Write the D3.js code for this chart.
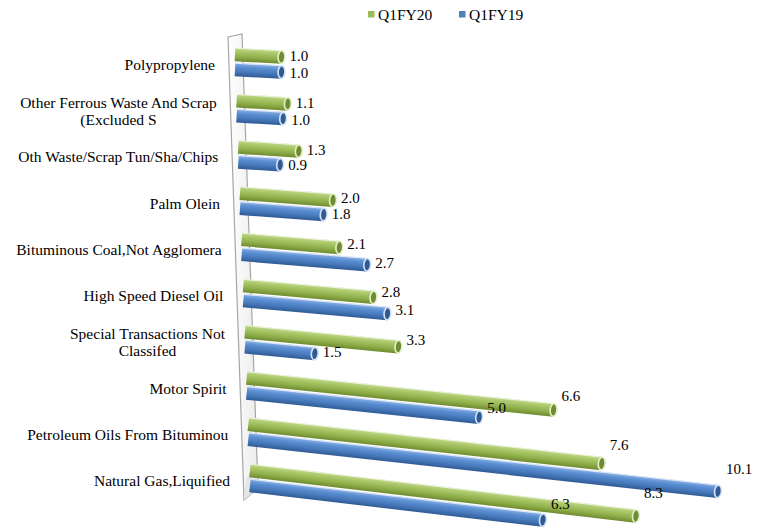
<!DOCTYPE html>
<html>
<head>
<meta charset="utf-8">
<script src="https://cdn.jsdelivr.net/npm/d3@7"></script>
<style>
  body { margin: 0; background: #fff; }
  svg text { font-family: "Times New Roman", "Liberation Serif", serif; fill: #000; }
</style>
</head>
<body>
<div id="chart"></div>
<script>
const width = 763;
const height = 527;

// data, top to bottom as drawn
const categories = [
  "Polypropylene",
  "Other Ferrous Waste And Scrap\n(Excluded S",
  "Oth Waste/Scrap Tun/Sha/Chips",
  "Palm Olein",
  "Bituminous Coal,Not Agglomera",
  "High Speed Diesel Oil",
  "Special Transactions Not\nClassifed",
  "Motor Spirit",
  "Petroleum Oils From Bituminou",
  "Natural Gas,Liquified"
];
const q1fy20 = [1.0, 1.1, 1.3, 2.0, 2.1, 2.8, 3.3, 6.6, 7.6, 8.3];
const q1fy19 = [1.0, 1.0, 0.9, 1.8, 2.7, 3.1, 1.5, 5.0, 10.1, 6.3];
const seriesNames = ["Q1FY20", "Q1FY19"];

const colors = ["#9bbb59", "#4f81bd"];
const shades = [
  ["#c4da90", "#a8c666", "#90af4b", "#6e8b2f"],
  ["#92b6e5", "#5c90d3", "#4779bb", "#2f5b94"]
];
const capFill = ["#6f8c30", "#2f5b94"];
const capRim = ["#e3eecb", "#d5e3f5"];

const svg = d3.select("#chart")
  .append("svg")
  .attr("width", width)
  .attr("height", height)
  .attr("font-family", "'Times New Roman', 'Liberation Serif', serif");

const defs = svg.append("defs");
shades.forEach((s, i) => {
  const g = defs.append("linearGradient")
    .attr("id", "cyl" + i)
    .attr("x1", 0).attr("y1", 0).attr("x2", 0).attr("y2", 1);
  [[0, s[0]], [0.3, s[1]], [0.65, s[2]], [1, s[3]]].forEach(([o, c]) => {
    g.append("stop").attr("offset", o).attr("stop-color", c);
  });
});
const wallGrad = defs.append("linearGradient")
  .attr("id", "wall").attr("x1", 0).attr("y1", 0).attr("x2", 1).attr("y2", 0);
wallGrad.append("stop").attr("offset", 0).attr("stop-color", "#ffffff");
wallGrad.append("stop").attr("offset", 1).attr("stop-color", "#ececec");

// scales
const y = d3.scalePoint().domain(categories).range([62, 478]);
const x = d3.scaleLinear().domain([0, 10]).range([0, 465]);
const wallX = d3.scaleLinear().domain([62, 478]).range([235, 250]);
const slope = d3.scaleLinear().domain([62, 478]).range([0.055, 0.118]);
const offsets = [-7.5, 7.5];
const thick = 13.5;

// back wall
svg.append("polygon")
  .attr("points", "228,37 242,34 258,488 244,500")
  .attr("fill", "url(#wall)")
  .attr("stroke", "#a6a6a6")
  .attr("stroke-width", 1.2);
svg.append("polygon")
  .attr("points", "244,500 258,488 257,470 246,478")
  .attr("fill", "#e6e6e6");

// bars
const series = [q1fy20, q1fy19];
const bars = [];
categories.forEach((c, i) => {
  series.forEach((vals, s) => {
    const yc = y(c);
    const x0 = wallX(yc);
    const y0 = yc + offsets[s];
    const sl = slope(yc);
    const len = x(vals[i]);
    bars.push({ c, s, v: vals[i], x0, y0, sl, len,
      ex: x0 + len, ey: y0 + len * sl });
  });
});

const barG = svg.append("g");
bars.forEach(d => {
  const ang = Math.atan(d.sl);
  const g = barG.append("g")
    .attr("transform", `translate(${d.x0},${d.y0}) rotate(${ang * 180 / Math.PI})`);
  const L = d.len / Math.cos(ang);
  g.append("rect")
    .attr("x", 0).attr("y", -thick / 2)
    .attr("width", L).attr("height", thick)
    .attr("fill", `url(#cyl${d.s})`);
  g.append("line")
    .attr("x1", 0).attr("x2", L)
    .attr("y1", -thick / 2 + 0.5).attr("y2", -thick / 2 + 0.5)
    .attr("stroke", "#ffffff").attr("stroke-opacity", 0.7).attr("stroke-width", 1);
  g.append("ellipse")
    .attr("cx", L).attr("cy", 0)
    .attr("rx", 3.4).attr("ry", thick / 2 - 0.5)
    .attr("fill", capFill[d.s])
    .attr("stroke", capRim[d.s])
    .attr("stroke-width", 1.6);
});

// data labels
svg.append("g").selectAll("text")
  .data(bars)
  .join("text")
  .attr("x", d => d.ex + 8)
  .attr("y", d => d.y0 + 2.8 * d.v + (d.s === 0 ? 4 : 6))
  .attr("font-size", "15px")
  .text(d => d.v.toFixed(1));

// category labels
const catG = svg.append("g");
categories.forEach(c => {
  const lines = c.split("\n");
  const yc = y(c) + 3;
  const right = wallX(y(c)) - 20;
  const t = catG.append("text").attr("font-size", "15.5px");
  lines.forEach((ln, k) => {
    t.append("tspan")
      .attr("y", yc + 5 + (k - (lines.length - 1) / 2) * 17)
      .text(ln);
  });
  if (lines.length === 1) {
    t.attr("text-anchor", "end").selectAll("tspan").attr("x", right);
  } else {
    let w = 0;
    t.selectAll("tspan").each(function () { w = Math.max(w, this.getComputedTextLength()); });
    t.attr("text-anchor", "middle").selectAll("tspan").attr("x", right - w / 2);
  }
});

// legend
const legendX = [368, 459];
seriesNames.forEach((name, i) => {
  svg.append("rect")
    .attr("x", legendX[i]).attr("y", 11)
    .attr("width", 6.5).attr("height", 6.5)
    .attr("fill", colors[i]);
  svg.append("text")
    .attr("x", legendX[i] + 10).attr("y", 19.5)
    .attr("font-size", "15.5px")
    .text(name);
});
</script>
</body>
</html>
